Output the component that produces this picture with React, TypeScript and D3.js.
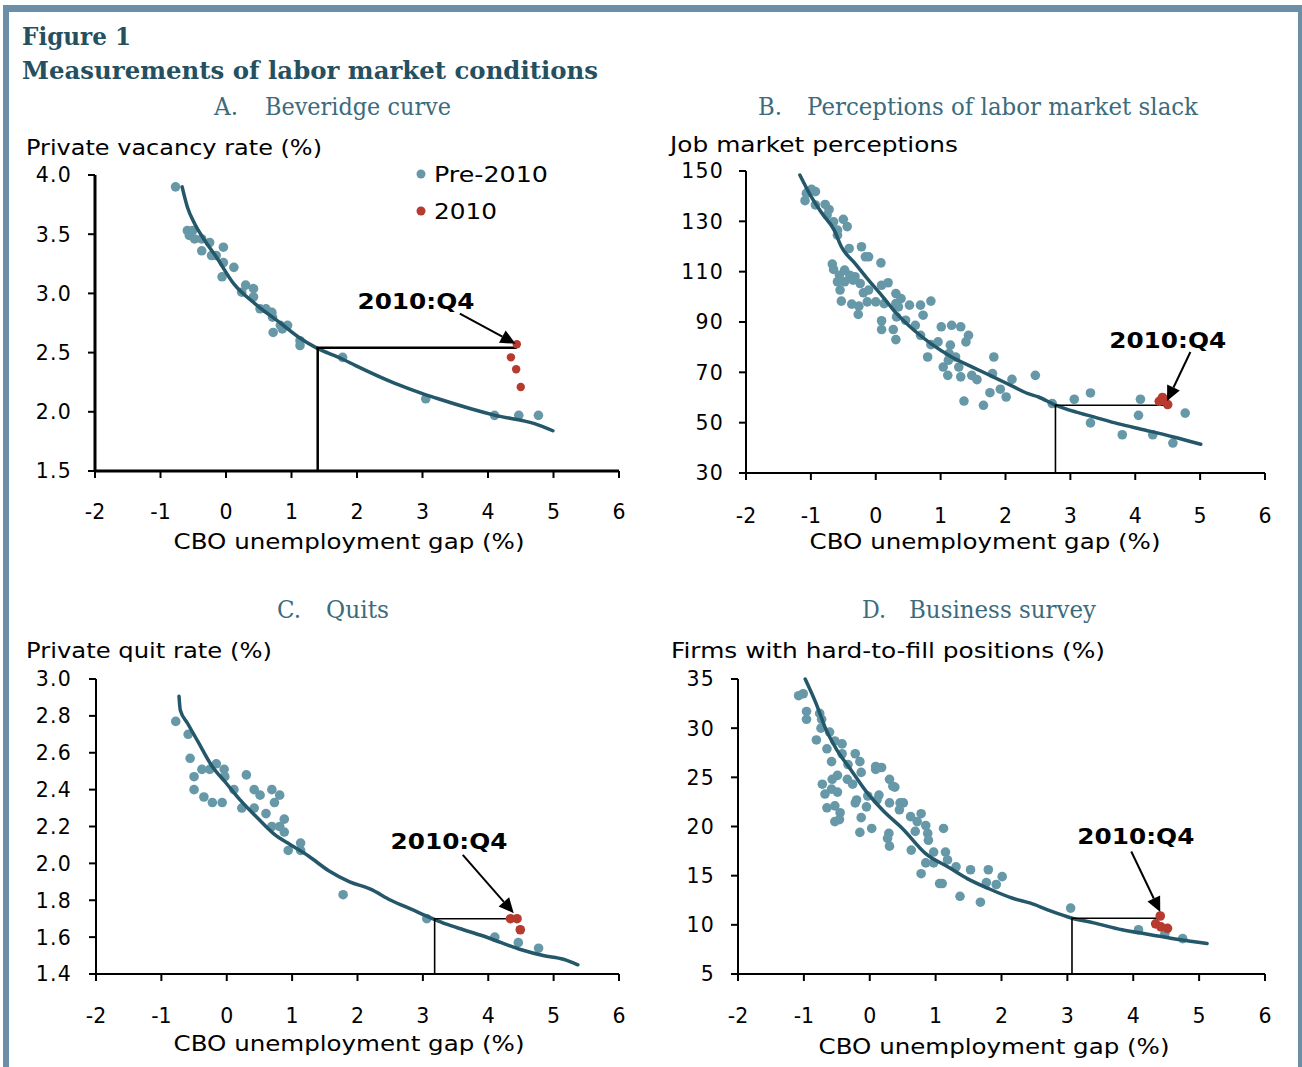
import React from 'react';
import * as d3 from 'd3';

// ---------- shared ----------
const xTicks = [-2, -1, 0, 1, 2, 3, 4, 5, 6];
const xTitle = 'CBO unemployment gap (%)';
const legendLabels = ['Pre-2010', '2010'];
const noteLabel = '2010:Q4';

// ---------- Panel A: Beveridge curve ----------
const aYTicks = [1.5, 2.0, 2.5, 3.0, 3.5, 4.0];
const aPre: [number, number][] = [
  [-0.77, 3.9], [-0.59, 3.53], [-0.51, 3.53], [-0.56, 3.49], [-0.48, 3.46], [-0.37, 3.46],
  [-0.25, 3.43], [-0.37, 3.36], [-0.04, 3.39], [-0.22, 3.32], [-0.15, 3.32], [-0.04, 3.26],
  [0.12, 3.22], [-0.06, 3.14], [0.3, 3.07], [0.42, 3.04], [0.24, 3.01], [0.42, 2.97],
  [0.52, 2.87], [0.61, 2.87], [0.7, 2.84], [0.71, 2.8], [0.83, 2.73], [0.94, 2.73],
  [0.86, 2.7], [0.72, 2.67], [1.13, 2.6], [1.13, 2.56], [1.78, 2.46], [3.05, 2.11],
  [4.1, 1.97], [4.47, 1.97], [4.77, 1.97],
];
const a2010: [number, number][] = [[4.44, 2.57], [4.35, 2.46], [4.43, 2.36], [4.5, 2.21]];
const aFit: [number, number][] = [
  [-0.67, 3.9], [-0.59, 3.73], [-0.48, 3.59], [-0.34, 3.46], [-0.15, 3.31], [0.12, 3.08],
  [0.45, 2.91], [0.83, 2.75], [1.11, 2.63], [1.38, 2.54], [1.76, 2.45], [1.98, 2.39],
  [2.58, 2.24], [3.02, 2.15], [3.24, 2.11], [4.11, 1.97], [4.71, 1.9], [4.99, 1.84],
];
const aMarker = [1.4, 2.54, 4.44];
const aArrow = [3.57, 2.83, 4.42, 2.575];
const aNote = [2.9, 2.868];

// ---------- Panel B: Perceptions of labor market slack ----------
const bYTicks = [30, 50, 70, 90, 110, 130, 150];
const bPre: [number, number][] = [
  [-1.09, 138.2], [-1.04, 141.8], [-0.99, 142.7], [-0.93, 141.8], [-1.07, 141.1], [-0.93, 136.5],
  [-0.78, 136.7], [-0.72, 134.7], [-0.75, 132.5], [-0.65, 129.8], [-0.59, 126.5], [-0.59, 124.5],
  [-0.5, 130.8], [-0.44, 127.9], [-0.41, 119.2], [-0.22, 119.9], [-0.16, 115.9], [-0.11, 115.9],
  [0.08, 113.5], [-0.67, 113.0], [-0.65, 110.9], [-0.56, 108.6], [-0.48, 110.6], [-0.4, 108.6],
  [-0.32, 108.0], [-0.59, 106.0], [-0.48, 106.0], [-0.35, 106.6], [-0.24, 105.3], [-0.55, 102.7],
  [-0.19, 101.6], [-0.11, 102.7], [0.09, 104.6], [0.19, 105.6], [-0.53, 98.3], [-0.37, 97.1],
  [-0.26, 96.3], [-0.27, 93.0], [-0.13, 98.0], [0.0, 98.0], [0.13, 97.3], [0.31, 101.3],
  [0.39, 99.3], [0.31, 97.3], [0.35, 96.0], [0.52, 96.7], [0.32, 92.0], [0.46, 90.7],
  [0.09, 90.5], [0.09, 87.0], [0.27, 87.0], [0.31, 83.0], [0.69, 96.7], [0.85, 98.3],
  [0.73, 92.7], [0.61, 88.7], [0.69, 84.7], [0.85, 81.0], [0.96, 82.1], [1.01, 88.1],
  [1.17, 88.7], [1.31, 88.1], [1.43, 84.7], [1.39, 82.1], [1.15, 80.8], [1.13, 77.5],
  [1.23, 76.1], [1.12, 74.8], [1.04, 72.1], [1.28, 72.1], [1.11, 68.8], [1.31, 68.2],
  [0.8, 76.1], [1.48, 68.8], [1.56, 67.1], [1.8, 69.5], [1.82, 76.1], [1.76, 61.9],
  [1.92, 63.3], [2.01, 60.2], [2.1, 67.2], [1.36, 58.6], [1.66, 56.9], [2.46, 68.8],
  [2.72, 57.6], [3.06, 59.3], [3.31, 61.8], [3.31, 49.9], [3.8, 45.2], [4.08, 59.3],
  [4.05, 52.9], [4.27, 45.2], [4.58, 41.9], [4.77, 53.8],
];
const b2010: [number, number][] = [[4.37, 58.5], [4.42, 60.0], [4.45, 59.0], [4.5, 57.2]];
const bFit: [number, number][] = [
  [-1.17, 148.4], [-1.01, 140.5], [-0.83, 133.2], [-0.64, 126.5], [-0.53, 119.9], [-0.32, 113.3],
  [-0.11, 106.6], [0.11, 100.0], [0.32, 93.4], [0.59, 86.7], [0.85, 81.4], [1.17, 76.1],
  [1.49, 72.1], [1.81, 68.2], [2.13, 64.2], [2.35, 61.5], [2.51, 60.2], [2.75, 57.2],
  [3.09, 54.2], [3.36, 52.3], [3.73, 49.6], [4.16, 47.0], [4.59, 44.3], [5.01, 41.4],
];
const bMarker = [2.77, 56.9, 4.45];
const bArrow = [4.85, 78.1, 4.49, 58.6];
const bNote = [4.5, 79.7];

// ---------- Panel C: Quits ----------
const cYTicks = [1.4, 1.6, 1.8, 2.0, 2.2, 2.4, 2.6, 2.8, 3.0];
const cPre: [number, number][] = [
  [-0.78, 2.77], [-0.59, 2.7], [-0.56, 2.57], [-0.5, 2.47], [-0.5, 2.4], [-0.38, 2.51],
  [-0.26, 2.51], [-0.16, 2.54], [-0.04, 2.51], [-0.03, 2.47], [-0.35, 2.36], [-0.22, 2.33],
  [-0.07, 2.33], [0.11, 2.4], [0.3, 2.48], [0.23, 2.3], [0.42, 2.4], [0.51, 2.37],
  [0.42, 2.3], [0.6, 2.27], [0.69, 2.4], [0.81, 2.37], [0.73, 2.33], [0.69, 2.2],
  [0.88, 2.24], [0.81, 2.2], [0.88, 2.17], [0.94, 2.07], [1.13, 2.11], [1.13, 2.07],
  [1.78, 1.83], [3.06, 1.7], [4.1, 1.6], [4.46, 1.57], [4.77, 1.54],
];
const c2010: [number, number][] = [[4.34, 1.7], [4.44, 1.7], [4.49, 1.64]];
const cFit: [number, number][] = [
  [-0.73, 2.906], [-0.71, 2.83], [-0.6, 2.76], [-0.44, 2.66], [-0.23, 2.53], [-0.02, 2.44],
  [0.19, 2.35], [0.46, 2.25], [0.72, 2.16], [0.98, 2.1], [1.25, 2.04], [1.56, 1.96],
  [1.88, 1.9], [2.2, 1.86], [2.51, 1.8], [2.83, 1.75], [3.15, 1.7], [3.36, 1.67],
  [3.62, 1.64], [3.89, 1.61], [4.2, 1.57], [4.52, 1.53], [4.84, 1.5], [5.15, 1.48], [5.37, 1.45],
];
const cMarker = [3.18, 1.7, 4.47];
const cArrow = [3.61, 2.046, 4.39, 1.73];
const cNote = [3.4, 2.078];

// ---------- Panel D: Business survey ----------
const dYTicks = [5, 10, 15, 20, 25, 30, 35];
const dPre: [number, number][] = [
  [-1.08, 33.3], [-1.01, 33.5], [-0.96, 31.7], [-0.96, 30.9], [-0.76, 31.5], [-0.73, 30.9],
  [-0.74, 30.0], [-0.61, 29.6], [-0.81, 28.8], [-0.65, 27.9], [-0.53, 28.7], [-0.42, 28.4],
  [-0.42, 27.4], [-0.58, 26.6], [-0.33, 26.3], [-0.22, 27.4], [-0.15, 26.6], [-0.13, 25.5],
  [0.09, 26.1], [0.18, 26.0], [0.09, 25.8], [-0.72, 24.3], [-0.57, 24.8], [-0.49, 25.2],
  [-0.68, 23.3], [-0.58, 23.8], [-0.49, 23.5], [-0.34, 24.8], [-0.26, 24.3], [-0.65, 21.9],
  [-0.53, 22.1], [-0.45, 21.4], [-0.53, 20.5], [-0.46, 20.7], [-0.22, 22.4], [-0.2, 22.7],
  [-0.03, 23.1], [-0.05, 22.0], [-0.13, 20.9], [-0.15, 19.4], [0.03, 19.8], [0.14, 23.2],
  [0.11, 22.7], [0.3, 24.8], [0.35, 24.1], [0.3, 22.4], [0.38, 24.0], [0.46, 22.4],
  [0.51, 22.4], [0.45, 21.7], [0.29, 19.3], [0.27, 18.8], [0.3, 18.0], [0.62, 21.0],
  [0.78, 21.3], [0.72, 20.5], [0.85, 20.1], [0.69, 19.5], [0.88, 19.3], [0.89, 18.6],
  [1.12, 19.8], [0.63, 17.6], [0.97, 17.4], [1.15, 17.4], [1.18, 16.6], [0.85, 16.3],
  [0.97, 16.3], [1.31, 15.9], [1.53, 15.6], [1.8, 15.6], [0.78, 15.2], [1.06, 14.2],
  [1.1, 14.2], [1.77, 14.3], [1.92, 14.1], [2.01, 14.9], [1.37, 12.9], [1.68, 12.3],
  [3.05, 11.7], [4.08, 9.5], [4.48, 9.1], [4.75, 8.6],
];
const d2010: [number, number][] = [[4.41, 10.9], [4.34, 10.1], [4.42, 9.8], [4.52, 9.65]];
const dFit: [number, number][] = [
  [-0.98, 35.0], [-0.82, 32.6], [-0.66, 29.8], [-0.5, 27.8], [-0.29, 25.8], [-0.07, 23.7],
  [0.19, 21.7], [0.51, 19.7], [0.84, 17.3], [1.21, 15.8], [1.48, 14.7], [1.8, 13.7],
  [2.17, 12.7], [2.44, 12.2], [2.71, 11.5], [3.06, 10.7], [3.4, 10.2], [3.83, 9.5],
  [4.26, 9.0], [4.69, 8.5], [5.12, 8.1],
];
const dMarker = [3.07, 10.67, 4.42];
const dArrow = [3.97, 17.46, 4.41, 11.3];
const dNote = [4.04, 18.2];

// ---------- layout / styling ----------
const W = 1302;
const H = 1067;
const TEAL_DOT = '#6698a8';
const CURVE = '#245769';
const RED = '#b63a2e';
const TITLE_COL = '#25505f';
const PANEL_COL = '#3b6b7c';
const FRAME = '#6a8fa6';
const SANS = '"DejaVu Sans", Verdana, sans-serif';
const SERIF = '"DejaVu Serif", Georgia, serif';

type Panel = {
  letter: string; title: string; titleLetterX: number; titleX: number; titleY: number; titleLen: number;
  yLabel: string; yLabelX: number; yLabelY: number; yLabelLen: number;
  xr: [number, number]; yr: [number, number]; yDomain: [number, number]; yTicks: number[]; fmt: (v: number) => string;
  tickRight: number; xTickY: number; xTitleX: number; xTitleY: number;
  pre: [number, number][]; post: [number, number][]; fit: [number, number][];
  marker: number[]; arrow: number[]; note: number[];
  axisW: number; markerW: number; postR: number; legend?: boolean;
};

const f1 = (v: number) => v.toFixed(1);
const f0 = (v: number) => String(v);

const panels: Panel[] = [
  {
    letter: 'A.', title: 'Beveridge curve', titleLetterX: 214, titleX: 265, titleY: 115, titleLen: 186,
    yLabel: 'Private vacancy rate (%)', yLabelX: 26, yLabelY: 155, yLabelLen: 296,
    xr: [95, 619], yr: [471, 175], yDomain: [1.5, 4.0], yTicks: aYTicks, fmt: f1,
    tickRight: 72, xTickY: 519, xTitleX: 349, xTitleY: 549,
    pre: aPre, post: a2010, fit: aFit, marker: aMarker, arrow: aArrow, note: aNote,
    axisW: 3, markerW: 2.5, postR: 4.2, legend: true,
  },
  {
    letter: 'B.', title: 'Perceptions of labor market slack', titleLetterX: 758, titleX: 807, titleY: 115, titleLen: 391,
    yLabel: 'Job market perceptions', yLabelX: 670, yLabelY: 152, yLabelLen: 288,
    xr: [746, 1265], yr: [473, 171], yDomain: [30, 150], yTicks: bYTicks, fmt: f0,
    tickRight: 724, xTickY: 523, xTitleX: 985, xTitleY: 549,
    pre: bPre, post: b2010, fit: bFit, marker: bMarker, arrow: bArrow, note: bNote,
    axisW: 2, markerW: 1.6, postR: 4.8,
  },
  {
    letter: 'C.', title: 'Quits', titleLetterX: 277, titleX: 326, titleY: 618, titleLen: 63,
    yLabel: 'Private quit rate (%)', yLabelX: 26, yLabelY: 658, yLabelLen: 246,
    xr: [96, 619], yr: [974, 679], yDomain: [1.4, 3.0], yTicks: cYTicks, fmt: f1,
    tickRight: 72, xTickY: 1023, xTitleX: 349, xTitleY: 1051,
    pre: cPre, post: c2010, fit: cFit, marker: cMarker, arrow: cArrow, note: cNote,
    axisW: 2, markerW: 1.6, postR: 4.8,
  },
  {
    letter: 'D.', title: 'Business survey', titleLetterX: 862, titleX: 909, titleY: 618, titleLen: 187,
    yLabel: 'Firms with hard-to-fill positions (%)', yLabelX: 671, yLabelY: 658, yLabelLen: 434,
    xr: [738, 1265], yr: [974, 679], yDomain: [5, 35], yTicks: dYTicks, fmt: f0,
    tickRight: 715, xTickY: 1023, xTitleX: 994, xTitleY: 1054,
    pre: dPre, post: d2010, fit: dFit, marker: dMarker, arrow: dArrow, note: dNote,
    axisW: 2, markerW: 1.6, postR: 4.8,
  },
];

function PanelView({ p }: { p: Panel }) {
  const x = d3.scaleLinear().domain([-2, 6]).range(p.xr);
  const y = d3.scaleLinear().domain(p.yDomain).range(p.yr);
  const line = d3.line<[number, number]>().x(d => x(d[0])).y(d => y(d[1])).curve(d3.curveMonotoneX);
  const [mx, my, mx1] = p.marker;
  const [ax0, ay0, ax1, ay1] = p.arrow;
  const tx0 = x(ax0), ty0 = y(ay0), tx1 = x(ax1), ty1 = y(ay1);
  const ang = Math.atan2(ty1 - ty0, tx1 - tx0);
  const hl = 15, hw = 7;
  const bx = tx1 - hl * Math.cos(ang), by = ty1 - hl * Math.sin(ang);
  const head = [
    [tx1, ty1],
    [bx + hw * Math.sin(ang), by - hw * Math.cos(ang)],
    [bx - hw * Math.sin(ang), by + hw * Math.cos(ang)],
  ].map(q => q.join(',')).join(' ');
  const y0 = p.yr[0];
  return (
    <g>
      <text x={p.titleLetterX} y={p.titleY} fontFamily={SERIF} fontSize={25} fill={PANEL_COL} textLength={24} lengthAdjust="spacingAndGlyphs">{p.letter}</text>
      <text x={p.titleX} y={p.titleY} fontFamily={SERIF} fontSize={25} fill={PANEL_COL} textLength={p.titleLen} lengthAdjust="spacingAndGlyphs">{p.title}</text>
      <text x={p.yLabelX} y={p.yLabelY} fontFamily={SANS} fontSize={21} fill="#000" textLength={p.yLabelLen} lengthAdjust="spacingAndGlyphs">{p.yLabel}</text>

      {/* y ticks */}
      {p.yTicks.map(t => (
        <g key={'y' + t}>
          <line x1={p.xr[0] - 7} x2={p.xr[0]} y1={y(t)} y2={y(t)} stroke="#000" strokeWidth={2} />
          <text x={p.tickRight} y={y(t)} dy="0.36em" textAnchor="end" fontFamily={SANS} fontSize={20.5} letterSpacing={1.2}>{p.fmt(t)}</text>
        </g>
      ))}
      {/* x ticks */}
      {xTicks.map(t => (
        <g key={'x' + t}>
          <line x1={x(t)} x2={x(t)} y1={y0} y2={y0 + 7} stroke="#000" strokeWidth={2} />
          <text x={x(t)} y={p.xTickY} textAnchor="middle" fontFamily={SANS} fontSize={20.5}>{t}</text>
        </g>
      ))}
      <text x={p.xTitleX} y={p.xTitleY} textAnchor="middle" fontFamily={SANS} fontSize={21} textLength={351} lengthAdjust="spacingAndGlyphs">{xTitle}</text>

      {/* points */}
      {p.pre.map((d, i) => (
        <circle key={'p' + i} cx={x(d[0])} cy={y(d[1])} r={4.8} fill={TEAL_DOT} />
      ))}
      <path d={line(p.fit) || ''} fill="none" stroke={CURVE} strokeWidth={3.5} strokeLinecap="round" strokeLinejoin="round" />

      {/* marker lines */}
      <path d={`M${x(mx)},${y0}V${y(my)}H${x(mx1)}`} fill="none" stroke="#000" strokeWidth={p.markerW} />

      {p.post.map((d, i) => (
        <circle key={'r' + i} cx={x(d[0])} cy={y(d[1])} r={p.postR} fill={RED} />
      ))}

      {/* axes */}
      <line x1={p.xr[0]} x2={p.xr[0]} y1={p.yr[1]} y2={y0} stroke="#000" strokeWidth={p.axisW} />
      <line x1={p.xr[0]} x2={p.xr[1]} y1={y0} y2={y0} stroke="#000" strokeWidth={p.axisW} />

      {/* annotation */}
      <line x1={tx0} y1={ty0} x2={bx} y2={by} stroke="#000" strokeWidth={2} />
      <polygon points={head} fill="#000" />
      <text x={x(p.note[0])} y={y(p.note[1])} textAnchor="middle" fontFamily={SANS} fontWeight="bold" fontSize={21} textLength={117} lengthAdjust="spacingAndGlyphs">{noteLabel}</text>

      {p.legend && (
        <g>
          <circle cx={421} cy={174} r={4.5} fill={TEAL_DOT} />
          <text x={434} y={182} fontFamily={SANS} fontSize={21} textLength={114} lengthAdjust="spacingAndGlyphs">{legendLabels[0]}</text>
          <circle cx={421} cy={211} r={4.5} fill={RED} />
          <text x={434} y={219} fontFamily={SANS} fontSize={21} textLength={63} lengthAdjust="spacingAndGlyphs">{legendLabels[1]}</text>
        </g>
      )}
    </g>
  );
}

export default function App() {
  return (
    <svg width={W} height={H} viewBox={`0 0 ${W} ${H}`} style={{ position: 'absolute', left: 0, top: 0, background: '#fff' }}>
      <rect x={0} y={0} width={W} height={H} fill="#fff" />
      {/* frame */}
      <rect x={3} y={5} width={W - 3} height={7} fill={FRAME} />
      <rect x={3} y={5} width={6} height={H - 5} fill={FRAME} />
      <rect x={1298} y={5} width={4} height={H - 5} fill={FRAME} />

      <text x={22} y={45} fontFamily={SERIF} fontWeight="bold" fontSize={25} fill={TITLE_COL} textLength={109} lengthAdjust="spacingAndGlyphs">Figure 1</text>
      <text x={22} y={79} fontFamily={SERIF} fontWeight="bold" fontSize={25} fill={TITLE_COL} textLength={576} lengthAdjust="spacingAndGlyphs">Measurements of labor market conditions</text>

      {panels.map(p => <PanelView key={p.letter} p={p} />)}
    </svg>
  );
}
